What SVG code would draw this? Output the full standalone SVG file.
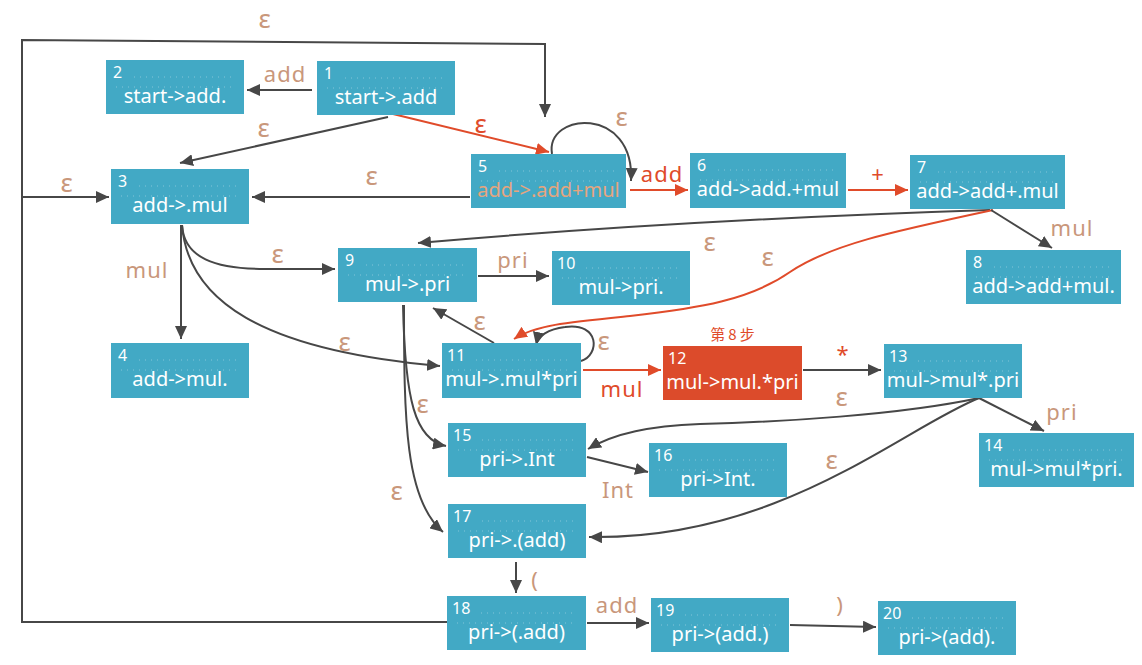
<svg xmlns="http://www.w3.org/2000/svg" width="1142" height="665" viewBox="0 0 1142 665">
<style>
  .box{fill:#42a9c5}
  .hot{fill:#dc4b2b}
  .num{font-family:"Noto Sans","DejaVu Sans",sans-serif;font-size:16px;fill:#ffffff}
  .txt{font-family:"Noto Sans","DejaVu Sans",sans-serif;font-size:20px;fill:#ffffff;text-anchor:middle}
  .dots{stroke:#ffffff;stroke-opacity:0.35;stroke-width:1;stroke-dasharray:1 5}
  .e{fill:none;stroke:#474747;stroke-width:2}
  .r{fill:none;stroke:#e04b2a;stroke-width:2}
  .lb{font-family:"Noto Sans","DejaVu Sans",sans-serif;font-size:22px;fill:#c9977b;text-anchor:middle;letter-spacing:1px}
  .lr{font-family:"Noto Sans","DejaVu Sans",sans-serif;font-size:22px;fill:#e04b2a;text-anchor:middle;letter-spacing:1px}
  .eps{font-size:26px}
</style>
<defs>
  <marker id="ad" markerUnits="userSpaceOnUse" markerWidth="14" markerHeight="12" refX="13" refY="6" orient="auto">
    <path d="M0,0 L13,6 L0,12 z" fill="#474747"/>
  </marker>
  <marker id="ar" markerUnits="userSpaceOnUse" markerWidth="14" markerHeight="12" refX="13" refY="6" orient="auto">
    <path d="M0,0 L13,6 L0,12 z" fill="#e04b2a"/>
  </marker>
</defs>
<rect width="1142" height="665" fill="#ffffff"/>

<g id="connectors">
  <path class="e" d="M447,622 L22,622 L22,40 L545,44 L545,117" marker-end="url(#ad)"/>
  <path class="e" d="M22,197 L109,197" marker-end="url(#ad)"/>
  <path class="e" d="M312,90 L247,90" marker-end="url(#ad)"/>
  <path class="e" d="M388,117 L180,163" marker-end="url(#ad)"/>
  <path class="r" d="M393,114 L549,152" marker-end="url(#ar)"/>
  <path class="e" d="M552,154 C545,112 635,105 631,181" marker-end="url(#ad)"/>
  <path class="e" d="M470,197 L252,197" marker-end="url(#ad)"/>
  <path class="r" d="M630,190 L688,190" marker-end="url(#ar)"/>
  <path class="r" d="M848,190 L908,190" marker-end="url(#ar)"/>
  <path class="e" d="M990,210 Q680,220 418,243" marker-end="url(#ad)"/>
  <path class="r" d="M993,210 C890,232 830,245 790,272 C750,300 700,308 630,316 C570,322 535,325 514,339" marker-end="url(#ar)"/>
  <path class="e" d="M991,210 L1052,248" marker-end="url(#ad)"/>
  <path class="e" d="M181,225 L181,339" marker-end="url(#ad)"/>
  <path class="e" d="M182,225 C184,258 215,269 265,269 L335,269" marker-end="url(#ad)"/>
  <path class="e" d="M182,225 C188,300 260,350 440,366" marker-end="url(#ad)"/>
  <path class="e" d="M478,276 L549,276" marker-end="url(#ad)"/>
  <path class="e" d="M494,343 L433,308" marker-end="url(#ad)"/>
  <path class="e" d="M581,361 C600,355 600,322 565,327 C548,329 538,336 536,345" marker-end="url(#ad)"/>
  <path class="r" d="M583,370 L661,370" marker-end="url(#ar)"/>
  <path class="e" d="M803,370 L881,370" marker-end="url(#ad)"/>
  <path class="e" d="M979,398 L1044,431" marker-end="url(#ad)"/>
  <path class="e" d="M979,398 C900,415 780,422 700,424 C650,426 615,433 588,449" marker-end="url(#ad)"/>
  <path class="e" d="M979,398 C900,430 780,540 589,537" marker-end="url(#ad)"/>
  <path class="e" d="M403,305 C405,400 415,440 446,446" marker-end="url(#ad)"/>
  <path class="e" d="M404,305 C404,420 405,500 443,532" marker-end="url(#ad)"/>
  <path class="e" d="M587,457 L648,472" marker-end="url(#ad)"/>
  <path class="e" d="M516,562 L516,593" marker-end="url(#ad)"/>
  <path class="e" d="M587,623 L649,623" marker-end="url(#ad)"/>
  <path class="e" d="M790,625 L876,627" marker-end="url(#ad)"/>
</g>

<g id="labels">
  <text class="lb eps" x="265" y="28">ε</text>
  <text class="lb" x="285" y="82">add</text>
  <text class="lb eps" x="264" y="137">ε</text>
  <text class="lr eps" x="481" y="133">ε</text>
  <text class="lb eps" x="622" y="126">ε</text>
  <text class="lb eps" x="372" y="185">ε</text>
  <text class="lb eps" x="67" y="192">ε</text>
  <text class="lr" x="662" y="182">add</text>
  <text class="lr" x="878" y="182">+</text>
  <text class="lb" x="1072" y="236">mul</text>
  <text class="lb eps" x="710" y="251">ε</text>
  <text class="lb eps" x="768" y="266">ε</text>
  <text class="lb" x="147" y="278">mul</text>
  <text class="lb eps" x="278" y="263">ε</text>
  <text class="lb eps" x="345" y="351">ε</text>
  <text class="lb" x="513" y="268">pri</text>
  <text class="lb eps" x="480" y="330">ε</text>
  <text class="lb eps" x="604" y="350">ε</text>
  <text class="lr" x="622" y="397">mul</text>
  <text class="lr" x="734" y="340" style="font-family:'Noto Sans CJK SC','Noto Sans',sans-serif;font-size:15px;letter-spacing:3px">第8步</text>
  <text class="lr" x="843" y="362">*</text>
  <text class="lb eps" x="842" y="406">ε</text>
  <text class="lb" x="1062" y="420">pri</text>
  <text class="lb eps" x="832" y="469">ε</text>
  <text class="lb eps" x="423" y="413">ε</text>
  <text class="lb eps" x="397" y="500">ε</text>
  <text class="lb" x="618" y="498">Int</text>
  <text class="lb" x="535" y="588">(</text>
  <text class="lb" x="617" y="613">add</text>
  <text class="lb" x="840" y="613">)</text>
</g>

<g id="n1"><rect class="box" x="317" y="61" width="138" height="54"/><line class="dots" x1="345" y1="78" x2="445" y2="78"/><line class="dots" x1="327" y1="88" x2="445" y2="88"/><text class="num" x="324" y="79">1</text><text class="txt" x="386" y="104">start-&gt;.add</text></g>
<g id="n2"><rect class="box" x="106" y="60" width="138" height="54"/><line class="dots" x1="134" y1="77" x2="234" y2="77"/><line class="dots" x1="116" y1="87" x2="234" y2="87"/><text class="num" x="113" y="78">2</text><text class="txt" x="175" y="103">start-&gt;add.</text></g>
<g id="n3"><rect class="box" x="111" y="169" width="138" height="55"/><line class="dots" x1="139" y1="186" x2="239" y2="186"/><line class="dots" x1="121" y1="196" x2="239" y2="196"/><text class="num" x="118" y="187">3</text><text class="txt" x="180" y="212">add-&gt;.mul</text></g>
<g id="n4"><rect class="box" x="111" y="343" width="138" height="55"/><line class="dots" x1="139" y1="360" x2="239" y2="360"/><line class="dots" x1="121" y1="370" x2="239" y2="370"/><text class="num" x="118" y="361">4</text><text class="txt" x="180" y="386">add-&gt;mul.</text></g>
<g id="n5"><rect class="box" x="471" y="154" width="155" height="54"/><line class="dots" x1="499" y1="171" x2="616" y2="171"/><line class="dots" x1="481" y1="181" x2="616" y2="181"/><text class="num" x="478" y="172">5</text><text class="txt" x="548.5" y="197" style="fill:#e6a57e">add-&gt;.add+mul</text></g>
<g id="n6"><rect class="box" x="690" y="153" width="156" height="55"/><line class="dots" x1="718" y1="170" x2="836" y2="170"/><line class="dots" x1="700" y1="180" x2="836" y2="180"/><text class="num" x="697" y="171">6</text><text class="txt" x="768" y="196">add-&gt;add.+mul</text></g>
<g id="n7"><rect class="box" x="910" y="155" width="155" height="54"/><line class="dots" x1="938" y1="172" x2="1055" y2="172"/><line class="dots" x1="920" y1="182" x2="1055" y2="182"/><text class="num" x="917" y="173">7</text><text class="txt" x="987.5" y="198">add-&gt;add+.mul</text></g>
<g id="n8"><rect class="box" x="966" y="250" width="155" height="54"/><line class="dots" x1="994" y1="267" x2="1111" y2="267"/><line class="dots" x1="976" y1="277" x2="1111" y2="277"/><text class="num" x="973" y="268">8</text><text class="txt" x="1043.5" y="293">add-&gt;add+mul.</text></g>
<g id="n9"><rect class="box" x="338" y="248" width="139" height="54"/><line class="dots" x1="366" y1="265" x2="467" y2="265"/><line class="dots" x1="348" y1="275" x2="467" y2="275"/><text class="num" x="345" y="266">9</text><text class="txt" x="407.5" y="291">mul-&gt;.pri</text></g>
<g id="n10"><rect class="box" x="552" y="251" width="138" height="54"/><line class="dots" x1="586" y1="268" x2="680" y2="268"/><line class="dots" x1="562" y1="278" x2="680" y2="278"/><text class="num" x="557" y="269">10</text><text class="txt" x="621" y="294">mul-&gt;pri.</text></g>
<g id="n11"><rect class="box" x="442" y="343" width="139" height="55"/><line class="dots" x1="476" y1="360" x2="571" y2="360"/><line class="dots" x1="452" y1="370" x2="571" y2="370"/><text class="num" x="447" y="361">11</text><text class="txt" x="511.5" y="386">mul-&gt;.mul*pri</text></g>
<g id="n12"><rect class="hot" x="663" y="346" width="139" height="54"/><text class="num" x="668" y="364">12</text><text class="txt" x="732.5" y="389">mul-&gt;mul.*pri</text></g>
<g id="n13"><rect class="box" x="884" y="344" width="138" height="54"/><line class="dots" x1="918" y1="361" x2="1012" y2="361"/><line class="dots" x1="894" y1="371" x2="1012" y2="371"/><text class="num" x="889" y="362">13</text><text class="txt" x="953" y="387">mul-&gt;mul*.pri</text></g>
<g id="n14"><rect class="box" x="979" y="433" width="155" height="54"/><line class="dots" x1="1013" y1="450" x2="1124" y2="450"/><line class="dots" x1="989" y1="460" x2="1124" y2="460"/><text class="num" x="984" y="451">14</text><text class="txt" x="1056.5" y="476">mul-&gt;mul*pri.</text></g>
<g id="n15"><rect class="box" x="448" y="423" width="138" height="54"/><line class="dots" x1="482" y1="440" x2="576" y2="440"/><line class="dots" x1="458" y1="450" x2="576" y2="450"/><text class="num" x="453" y="441">15</text><text class="txt" x="517" y="466">pri-&gt;.Int</text></g>
<g id="n16"><rect class="box" x="649" y="443" width="138" height="54"/><line class="dots" x1="683" y1="460" x2="777" y2="460"/><line class="dots" x1="659" y1="470" x2="777" y2="470"/><text class="num" x="654" y="461">16</text><text class="txt" x="718" y="486">pri-&gt;Int.</text></g>
<g id="n17"><rect class="box" x="448" y="504" width="138" height="54"/><line class="dots" x1="482" y1="521" x2="576" y2="521"/><line class="dots" x1="458" y1="531" x2="576" y2="531"/><text class="num" x="453" y="522">17</text><text class="txt" x="517" y="547">pri-&gt;.(add)</text></g>
<g id="n18"><rect class="box" x="447" y="596" width="139" height="54"/><line class="dots" x1="481" y1="613" x2="576" y2="613"/><line class="dots" x1="457" y1="623" x2="576" y2="623"/><text class="num" x="452" y="614">18</text><text class="txt" x="516.5" y="639">pri-&gt;(.add)</text></g>
<g id="n19"><rect class="box" x="651" y="598" width="138" height="54"/><line class="dots" x1="685" y1="615" x2="779" y2="615"/><line class="dots" x1="661" y1="625" x2="779" y2="625"/><text class="num" x="656" y="616">19</text><text class="txt" x="720" y="641">pri-&gt;(add.)</text></g>
<g id="n20"><rect class="box" x="878" y="601" width="138" height="54"/><line class="dots" x1="912" y1="618" x2="1006" y2="618"/><line class="dots" x1="888" y1="628" x2="1006" y2="628"/><text class="num" x="883" y="619">20</text><text class="txt" x="947" y="644">pri-&gt;(add).</text></g>
</svg>
